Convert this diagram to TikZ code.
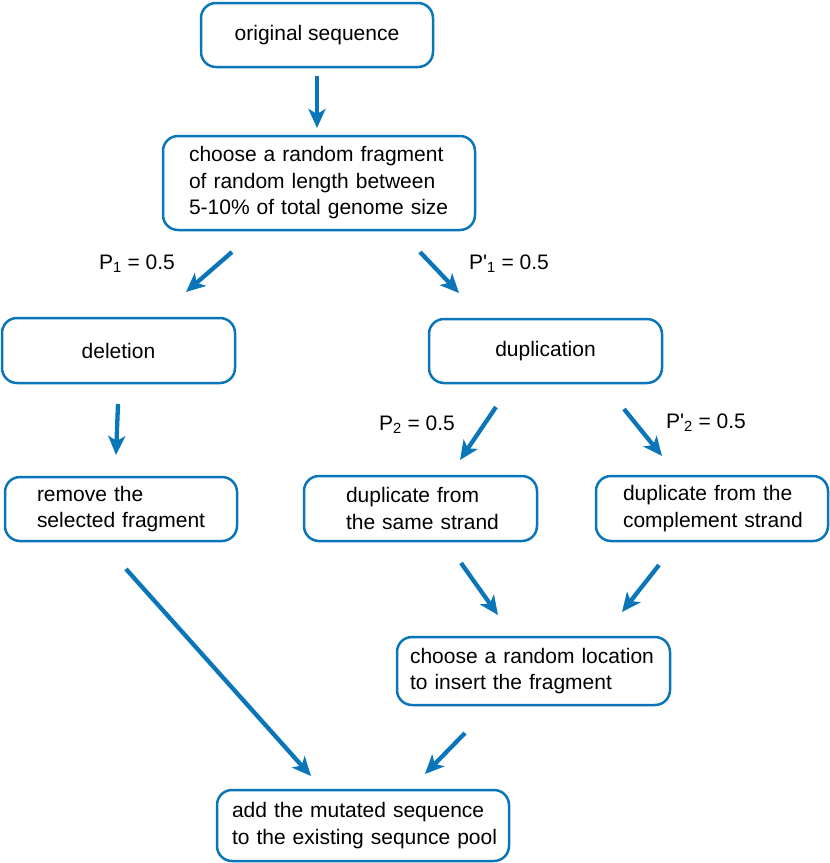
\documentclass[tikz,border=0pt]{standalone}
\usepackage{fontspec}
\setmainfont{Liberation Sans}
\usetikzlibrary{arrows.meta}
\definecolor{myblue}{RGB}{10,117,185}
\begin{document}
\begin{tikzpicture}[x=1pt,y=-1pt,
  box/.style={draw=myblue, line width=2.5pt, rounded corners=15pt, fill=white,
    font=\fontsize{21}{26.5}\selectfont, inner ysep=0pt},
  cbox/.style={box, align=center},
  lbox/.style={box, align=left},
  lab/.style={font=\fontsize{21}{26.5}\selectfont, inner sep=0pt},
  arr/.style={draw=myblue, line width=4.3pt, -{Stealth[length=19pt,width=17pt,inset=5pt]}}]
\useasboundingbox (0,0) rectangle (830,863);

\node[cbox, minimum width=232pt, minimum height=64pt] (orig) at (317,35) {original sequence};
\node[lbox, minimum width=312pt, minimum height=94pt, inner xsep=26pt, text width=260pt] (frag) at (319,183)
  {\mbox{choose a random fragment}\\\mbox{of random length between}\\\mbox{5-10\% of total genome size}};
\node[cbox, minimum width=233pt, minimum height=65pt] (del) at (118.5,350.5) {deletion};
\node[cbox, minimum width=233pt, minimum height=64pt] (dup) at (545.5,351) {duplication};
\node[lbox, minimum width=232pt, minimum height=64pt, inner xsep=32pt, text width=168pt] (rem) at (121,509)
  {\mbox{remove the}\\\mbox{selected fragment}};
\node[lbox, minimum width=233pt, minimum height=65pt, inner xsep=42pt, text width=149pt] (same) at (420.5,508.5)
  {\mbox{duplicate from}\\\mbox{the same strand}};
\node[lbox, minimum width=232pt, minimum height=65pt, inner xsep=27pt, text width=178pt] (comp) at (712,508.5)
  {\mbox{duplicate from the}\\\mbox{complement strand}};
\node[lbox, minimum width=273pt, minimum height=68pt, inner xsep=13pt, text width=247pt] (ins) at (533.5,671)
  {\mbox{choose a random location}\\\mbox{to insert the fragment}};
\node[lbox, minimum width=292pt, minimum height=71pt, inner xsep=15pt, text width=262pt] (fin) at (363,825.5)
  {\mbox{add the mutated sequence}\\\mbox{to the existing sequnce pool}};

\node[lab] (p1) at (137,264) {P\textsubscript{1} = 0.5};
\node[lab] (pp1) at (509,264) {P\textquotesingle\textsubscript{1} = 0.5};
\node[lab] (p2) at (417,425) {P\textsubscript{2} = 0.5};
\node[lab] (pp2) at (706,423) {P\textquotesingle\textsubscript{2} = 0.5};

\coordinate (a1s) at (317,76);   \coordinate (a1e) at (317,128);
\coordinate (a2s) at (232,252);  \coordinate (a2e) at (186,292);
\coordinate (a3s) at (420,252);  \coordinate (a3e) at (459,293);
\coordinate (a4s) at (118,404);  \coordinate (a4e) at (116,455);
\coordinate (a5s) at (496,407);  \coordinate (a5e) at (460,460);
\coordinate (a6s) at (624,409);  \coordinate (a6e) at (662,456);
\coordinate (a7s) at (461,563);  \coordinate (a7e) at (498,615);
\coordinate (a8s) at (659,565);  \coordinate (a8e) at (622,612);
\coordinate (a9s) at (126,569);  \coordinate (a9e) at (311,776);
\coordinate (a10s) at (465,733); \coordinate (a10e) at (425,774);

\foreach \i in {1,...,10} \draw[arr] (a\i s) -- (a\i e);
\end{tikzpicture}
\end{document}
